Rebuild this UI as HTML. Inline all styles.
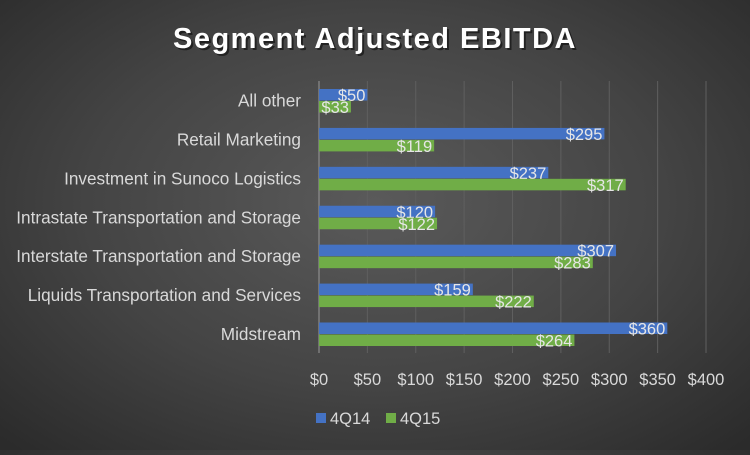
<!DOCTYPE html>
<html><head><meta charset="utf-8"><style>
body{margin:0;width:750px;height:450px;overflow:hidden;background:radial-gradient(ellipse 70% 75% at 50% 45%,#5a5a5a 0%,#444 55%,#2b2b2b 100%);font-family:"Liberation Sans",sans-serif}
</style></head><body>
<svg id="c" width="750" height="450">
<text x="375" y="48" text-anchor="middle" fill="#000" opacity="0.5" font-size="29" font-weight="bold" letter-spacing="1.5" transform="translate(2,2)">Segment Adjusted EBITDA</text>
<text x="375" y="48" text-anchor="middle" fill="#fff" font-size="29" font-weight="bold" letter-spacing="1.5">Segment Adjusted EBITDA</text>
<g id="g"></g>
<rect x="316" y="413" width="10" height="10" fill="#4472c4"/>
<text x="330" y="424" fill="#d9d9d9" font-size="16.5">4Q14</text>
<rect x="386" y="413" width="10" height="10" fill="#70ad47"/>
<text x="400" y="424" fill="#d9d9d9" font-size="16.5">4Q15</text>
</svg>
<script>
const categories=["All other","Retail Marketing","Investment in Sunoco Logistics","Intrastate Transportation and Storage","Interstate Transportation and Storage","Liquids Transportation and Services","Midstream"];
const q14=[50,295,237,120,307,159,360];
const q15=[33,119,317,122,283,222,264];
const ticks=[0,50,100,150,200,250,300,350,400];
const NS="http://www.w3.org/2000/svg",g=document.getElementById('g');
const x=v=>319+v*(706-319)/400;
const yc=i=>100.5+i*(334-100.5)/6;
function el(t,a,txt){const e=document.createElementNS(NS,t);for(const k in a)e.setAttribute(k,a[k]);if(txt!=null)e.textContent=txt;g.appendChild(e);return e;}
ticks.forEach(t=>{
 const l=el('line',{x1:x(t),x2:x(t),y1:81,y2:353,stroke:t===0?'#999':'#5f5f5f','stroke-width':1});
 
 
 const tx=el('text',{x:x(t),y:385,'text-anchor':'middle',fill:'#d9d9d9','font-size':16.5},'$'+t);
 
 
});
categories.forEach((c,i)=>{
 const cy=yc(i);
 const lb=el('text',{x:301,y:cy+6,'text-anchor':'end',fill:'#d9d9d9','font-size':17.2},c);
 
 
 [[q14[i],'#4472c4',cy-11.5],[q15[i],'#70ad47',cy+0.5]].forEach(([v,col,y])=>{
  const r=el('rect',{x:x(0),y:y,width:x(v)-x(0),height:11.5,fill:col});
  
  
  const t=el('text',{x:x(v)-2,y:y+12,'text-anchor':'end',fill:'#e6e6e6','font-size':16.5},'$'+v);
  
  
 });
});
</script>
</body></html>
